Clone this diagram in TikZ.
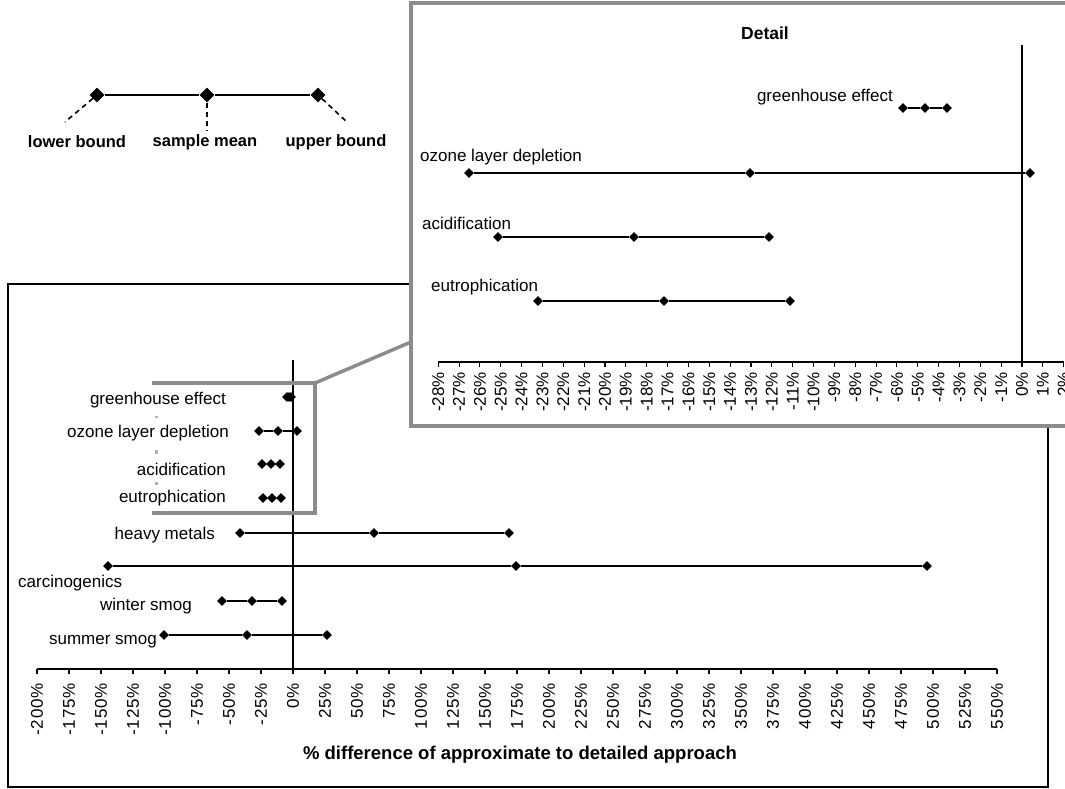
\documentclass[tikz,border=0pt]{standalone}
\usepackage{fontspec}
\setmainfont{Liberation Sans}
\newfontfamily\spacedsans[LetterSpace=5]{Liberation Sans}
\usetikzlibrary{shapes.geometric}
\begin{document}
\begin{tikzpicture}[x=1pt,y=-1pt,
  dia/.style={diamond, aspect=1, fill=black, inner sep=0pt, minimum width=10pt, minimum height=10pt},
  bigdia/.style={diamond, aspect=1, fill=black, inner sep=0pt, minimum width=15pt, minimum height=15pt},
  lbl/.style={font=\fontsize{17}{20}\selectfont, inner sep=0pt},
  legl/.style={font=\bfseries\fontsize{16.5}{20}\selectfont, inner sep=0pt},
  ticklbl/.style={font=\spacedsans\fontsize{17}{20}\selectfont, rotate=90, anchor=east, inner sep=0pt},
  dticklbl/.style={font=\fontsize{17}{20}\selectfont, rotate=90, anchor=east, inner sep=0pt},
  bar/.style={line width=1.8pt},
  legdash/.style={line width=1.6pt, dash pattern=on 5pt off 4pt},
  zoomline/.style={draw=black!45, line width=3.5pt},
  frame/.style={draw=black, line width=1.6pt},
  speck/.style={fill=black!30},
]
\useasboundingbox (0,0) rectangle (1065,789);

% ---------------- legend ----------------
\node[bigdia] (l1) at (97,95) {};
\node[bigdia] (l2) at (207,95) {};
\node[bigdia] (l3) at (318,95) {};
\draw[bar] (l1) -- (l2) -- (l3);
\coordinate (d1) at (65,122);
\coordinate (d2) at (207,130);
\coordinate (d3) at (348,123);
\draw[legdash] (l1) -- (d1);
\draw[legdash] (l2) -- (d2);
\draw[legdash] (l3) -- (d3);
\node[legl] (t1) at (77,142) {lower bound};
\node[legl] (t2) at (205,142) {sample mean};
\node[legl] (t3) at (336,142) {upper bound};

% ---------------- main chart ----------------
\draw[frame] (8,284) rectangle (1048,787);
\coordinate (z0) at (293,360);
\coordinate (z1) at (293,669);
\draw[line width=1.2pt] (z0) -- (z1);
\coordinate (a0) at (37,669);
\coordinate (a1) at (997,669);
\draw[line width=1.5pt] (a0) -- (a1);
\foreach \i in {0,...,30}{
  \pgfmathsetmacro\xx{37+32*\i}
  \pgfmathtruncatemacro\vv{-200+25*\i}
  \draw[line width=1.2pt] (\xx,669) -- (\xx,674);
  \node[ticklbl] (m\i) at (\xx,683) {\vv\%};
}
\node[font=\bfseries\fontsize{18.5}{22}\selectfont, inner sep=0pt] (title) at (520,755) {\% difference of approximate to detailed approach};

% rows
\node[dia] (g1) at (287,397) {};
\node[dia] (g2) at (289,397) {};
\node[dia] (g3) at (291,397) {};
\node[lbl, anchor=east] (gl) at (226,400) {greenhouse effect};

\node[dia] (o1) at (259,431) {};
\node[dia] (o2) at (278,431) {};
\node[dia] (o3) at (297,431) {};
\draw[bar] (o1) -- (o2) -- (o3);
\node[lbl, anchor=east] (ol) at (229,433) {ozone layer depletion};

\node[dia] (ac1) at (262,464) {};
\node[dia] (ac2) at (271,464) {};
\node[dia] (ac3) at (280,464) {};
\node[lbl, anchor=east] (acl) at (226,469) {acidification};

\node[dia] (e1) at (263,498) {};
\node[dia] (e2) at (272,498) {};
\node[dia] (e3) at (281,498) {};
\node[lbl, anchor=east] (el) at (226,498) {eutrophication};

\node[dia] (h1) at (240,533) {};
\node[dia] (h2) at (374,533) {};
\node[dia] (h3) at (509,533) {};
\draw[bar] (h1) -- (h2) -- (h3);
\node[lbl, anchor=east] (hl) at (215,535) {heavy metals};

\node[dia] (c1) at (108,566) {};
\node[dia] (c2) at (516,566) {};
\node[dia] (c3) at (927,566) {};
\draw[bar] (c1) -- (c2) -- (c3);
\node[lbl, anchor=west] (cl) at (18,583) {carcinogenics};

\node[dia] (w1) at (222,601) {};
\node[dia] (w2) at (252,601) {};
\node[dia] (w3) at (282,601) {};
\draw[bar] (w1) -- (w2) -- (w3);
\node[lbl, anchor=east] (wl) at (192,606) {winter smog};

\node[dia] (s1) at (164,635) {};
\node[dia] (s2) at (247,635) {};
\node[dia] (s3) at (327,635) {};
\draw[bar] (s1) -- (s2) -- (s3);
\node[lbl, anchor=east] (sl) at (157,642) {summer smog};

% small grey specks
\fill[speck] (155,415.5) rectangle (157.5,418);
\fill[speck] (155,449.5) rectangle (157.5,454);
\fill[speck] (155,482) rectangle (157.5,484.5);

% zoom bracket (open on the left) and connector
\coordinate (zr1) at (152,383);
\coordinate (zr2) at (315,383);
\coordinate (zr3) at (315,513);
\coordinate (zr4) at (152,513);
\coordinate (zc) at (411,342);
\draw[zoomline] (zr1) -- (zr2) -- (zr3) -- (zr4);
\draw[zoomline] (zr2) -- (zc);

% ---------------- detail box ----------------
\draw[zoomline, fill=white] (411,3) rectangle (1080,426);
\node[font=\bfseries\fontsize{17.5}{21}\selectfont, inner sep=0pt] (det) at (765,33) {Detail};
\coordinate (dz0) at (1022,45);
\coordinate (dz1) at (1022,362);
\draw[line width=1.1pt] (dz0) -- (dz1);
\coordinate (da0) at (438.2,362);
\coordinate (da1) at (1063.7,362);
\draw[line width=1.3pt] (da0) -- (da1);
\foreach \i in {0,...,30}{
  \pgfmathsetmacro\xx{438.2+20.85*\i}
  \pgfmathtruncatemacro\vv{-28+\i}
  \draw[line width=1.1pt] (\xx,362) -- (\xx,367);
  \node[dticklbl] (dt\i) at (\xx,372) {\vv\%};
}

\node[dia] (dg1) at (903,108) {};
\node[dia] (dg2) at (925,108) {};
\node[dia] (dg3) at (947,108) {};
\draw[bar] (dg1) -- (dg2) -- (dg3);
\node[lbl, anchor=east] (dgl) at (893,97) {greenhouse effect};

\node[dia] (do1) at (469,173) {};
\node[dia] (do2) at (750,173) {};
\node[dia] (do3) at (1030,173) {};
\draw[bar] (do1) -- (do2) -- (do3);
\node[lbl, anchor=west] (dol) at (420,157) {ozone layer depletion};

\node[dia] (da1n) at (498,237) {};
\node[dia] (da2n) at (634,237) {};
\node[dia] (da3n) at (769,237) {};
\draw[bar] (da1n) -- (da2n) -- (da3n);
\node[lbl, anchor=west] (dal) at (422,223) {acidification};

\node[dia] (de1) at (538,301) {};
\node[dia] (de2) at (664,301) {};
\node[dia] (de3) at (790,301) {};
\draw[bar] (de1) -- (de2) -- (de3);
\node[lbl, anchor=west] (del) at (431,287) {eutrophication};
\end{tikzpicture}
\end{document}
